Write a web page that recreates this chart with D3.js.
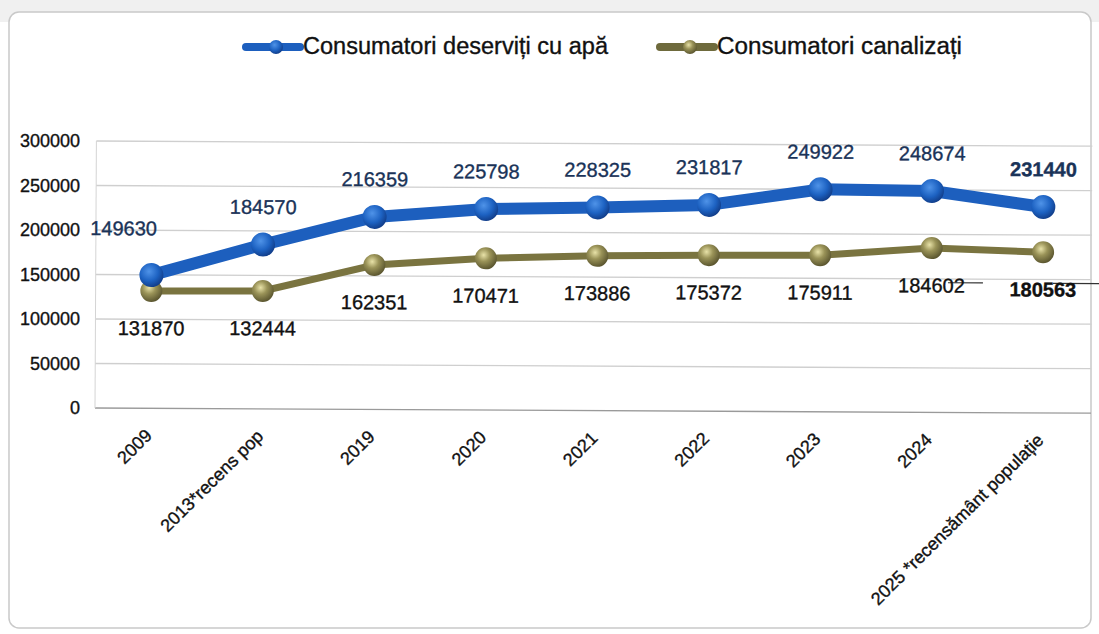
<!DOCTYPE html>
<html>
<head>
<meta charset="utf-8">
<script src="https://cdn.jsdelivr.net/npm/d3@7"></script>
<style>
  body { margin: 0; background: #fff; }
  svg { display: block; font-family: "Liberation Sans", Arial, sans-serif; }
</style>
</head>
<body>
<div class="chart-holder"></div>
<script>
const categories = ["2009", "2013*recens pop", "2019", "2020", "2021", "2022", "2023", "2024", "2025 *recensământ populație"];
const apaValues = [149630, 184570, 216359, 225798, 228325, 231817, 249922, 248674, 231440];
const canalValues = [131870, 132444, 162351, 170471, 173886, 175372, 175911, 184602, 180563];
const yTicks = [0, 50000, 100000, 150000, 200000, 250000, 300000];
const seriesNames = ["Consumatori deserviți cu apă", "Consumatori canalizați"];

function controller() {
  const width = 1099;
  const height = 634;
  const margin = { top: 141, right: 1, bottom: 226, left: 95 };

  const svg = d3.select(".chart-holder")
    .append("svg")
    .attr("width", width)
    .attr("height", height)
    .attr("viewBox", `0 0 ${width} ${height}`);

  const defs = svg.append("defs");
  const gradBlue = defs.append("radialGradient").attr("id", "gBlue")
    .attr("cx", "40%").attr("cy", "35%").attr("r", "65%");
  gradBlue.append("stop").attr("offset", "0%").attr("stop-color", "#4f93e8");
  gradBlue.append("stop").attr("offset", "60%").attr("stop-color", "#1d62c2");
  gradBlue.append("stop").attr("offset", "100%").attr("stop-color", "#123f8c");
  const gradOlive = defs.append("radialGradient").attr("id", "gOlive")
    .attr("cx", "40%").attr("cy", "35%").attr("r", "65%");
  gradOlive.append("stop").attr("offset", "0%").attr("stop-color", "#e8e2a8");
  gradOlive.append("stop").attr("offset", "45%").attr("stop-color", "#9a9358");
  gradOlive.append("stop").attr("offset", "100%").attr("stop-color", "#5c5730");

  // frame (scanned page look)
  svg.append("rect").attr("x", 0).attr("y", 0).attr("width", width).attr("height", 22)
    .attr("fill", "#f0f0f0");
  svg.append("rect").attr("x", 9).attr("y", 12).attr("width", 1082).attr("height", 616)
    .attr("rx", 10).attr("fill", "#fff").attr("stroke", "#c9c9c9").attr("stroke-width", 1.5);

  const x = d3.scaleBand()
    .domain(categories)
    .range([margin.left, width - margin.right]);

  const y = d3.scaleLinear()
    .domain([0, 300000])
    .range([height - margin.bottom, margin.top]);

  // the scan is slightly tilted
  const g = svg.append("g").attr("transform", "rotate(0.3, 95, 408)");

  // gridlines
  g.selectAll(".grid")
    .data(yTicks)
    .join("line")
    .attr("x1", margin.left).attr("x2", width - 8)
    .attr("y1", d => y(d)).attr("y2", d => y(d))
    .attr("stroke", d => d === 0 ? "#9a9a9a" : "#cfcfcf")
    .attr("stroke-width", 1.3);

  g.append("line")
    .attr("x1", margin.left).attr("x2", margin.left)
    .attr("y1", y(300000)).attr("y2", y(0))
    .attr("stroke", "#d4d4d4");

  // y axis labels
  const yAxis = d3.axisLeft(y).tickValues(yTicks).tickSize(0).tickPadding(15)
    .tickFormat(d3.format("d"));
  svg.append("g")
    .attr("transform", `translate(${margin.left},0)`)
    .call(yAxis)
    .call(s => s.select(".domain").remove())
    .selectAll("text")
    .attr("font-size", 18)
    .attr("fill", "#111")
    .attr("stroke", "#111").attr("stroke-width", 0.35);

  // x axis labels
  const xAxis = d3.axisBottom(x).tickSize(0).tickPadding(0);
  g.append("g")
    .attr("transform", `translate(0,${y(0)})`)
    .call(xAxis)
    .call(s => s.select(".domain").remove())
    .selectAll("text")
    .attr("font-size", 18)
    .attr("fill", "#111")
    .attr("stroke", "#111").attr("stroke-width", 0.35)
    .attr("text-anchor", "end")
    .attr("dy", "0.35em")
    .attr("transform", "translate(-2,24) rotate(-45)");

  const cx = d => x(d) + x.bandwidth() / 2;

  const line = d3.line()
    .x((d, i) => cx(categories[i]))
    .y(d => y(d));

  // dark leader segments around the last olive label
  const lastX = cx(categories[categories.length - 1]);
  const lastY = y(canalValues[canalValues.length - 1]) + 31;
  g.append("line")
    .attr("x1", lastX - 95).attr("x2", lastX - 60)
    .attr("y1", lastY).attr("y2", lastY)
    .attr("stroke", "#333").attr("stroke-width", 1.2);
  g.append("line")
    .attr("x1", lastX + 10).attr("x2", width)
    .attr("y1", lastY).attr("y2", lastY)
    .attr("stroke", "#333").attr("stroke-width", 1.2);

  // olive series
  g.append("path").datum(canalValues)
    .attr("d", line)
    .attr("fill", "none")
    .attr("stroke", "#7a7440")
    .attr("stroke-width", 7);
  g.selectAll(".mOlive").data(canalValues).join("circle")
    .attr("cx", (d, i) => cx(categories[i]))
    .attr("cy", d => y(d))
    .attr("r", 11)
    .attr("fill", "url(#gOlive)");

  // blue series
  g.append("path").datum(apaValues)
    .attr("d", line)
    .attr("fill", "none")
    .attr("stroke", "#1d5fbe")
    .attr("stroke-width", 12)
    .attr("stroke-linejoin", "round");
  g.selectAll(".mBlue").data(apaValues).join("circle")
    .attr("cx", (d, i) => cx(categories[i]))
    .attr("cy", d => y(d))
    .attr("r", 12)
    .attr("fill", "url(#gBlue)");

  // value labels
  g.selectAll(".lBlue").data(apaValues).join("text")
    .attr("x", (d, i) => cx(categories[i]) - (i === 0 ? 28 : 0))
    .attr("y", (d, i) => y(d) - (i === 0 ? 45 : 36))
    .attr("text-anchor", "middle")
    .attr("dominant-baseline", "middle")
    .attr("font-size", 20)
    .attr("fill", "#1a3358")
    .attr("stroke", "#1a3358").attr("stroke-width", 0.35)
    .attr("font-weight", (d, i) => i === categories.length - 1 ? "bold" : "normal")
    .text(d => d);

  g.selectAll(".lOlive").data(canalValues).join("text")
    .attr("x", (d, i) => cx(categories[i]))
    .attr("y", d => y(d) + 39)
    .attr("text-anchor", "middle")
    .attr("dominant-baseline", "middle")
    .attr("font-size", 20)
    .attr("fill", "#111")
    .attr("stroke", "#111").attr("stroke-width", 0.35)
    .attr("font-weight", (d, i) => i === categories.length - 1 ? "bold" : "normal")
    .text(d => d);

  // legend
  const legend = svg.append("g").attr("transform", "translate(0,47)");
  const legendItems = [
    { name: seriesNames[0], x: 246, color: "#1d5fbe", grad: "url(#gBlue)", len: 305 },
    { name: seriesNames[1], x: 660, color: "#6e6a3c", grad: "url(#gOlive)", len: 245 }
  ];
  legendItems.forEach(it => {
    legend.append("line")
      .attr("x1", it.x).attr("x2", it.x + 54)
      .attr("y1", 0).attr("y2", 0)
      .attr("stroke", it.color).attr("stroke-width", 8)
      .attr("stroke-linecap", "round");
    legend.append("circle").attr("cx", it.x + 30).attr("cy", 0).attr("r", 7)
      .attr("fill", it.grad);
    legend.append("text")
      .attr("x", it.x + 57).attr("y", 1)
      .attr("dominant-baseline", "middle")
      .attr("font-size", 23)
      .attr("textLength", it.len)
      .attr("lengthAdjust", "spacingAndGlyphs")
      .attr("fill", "#111")
      .attr("stroke", "#111").attr("stroke-width", 0.35)
      .text(it.name);
  });
}

controller();
</script>
</body>
</html>
